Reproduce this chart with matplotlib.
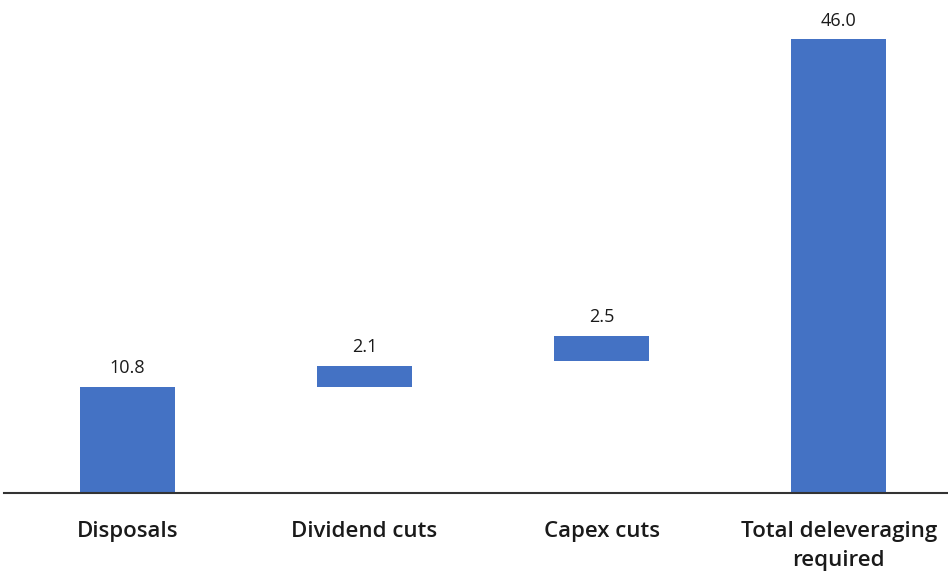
import matplotlib.pyplot as plt

# waterfall data
categories = ['Disposals', 'Dividend cuts', 'Capex cuts', 'Total deleveraging\nrequired']
values = [10.8, 2.1, 2.5, 46.0]
starts = [0, 10.8, 13.4, 0]

plt.rcParams['font.family'] = ['Open Sans', 'DejaVu Sans']

fig = plt.figure(figsize=(9.48, 5.72), dpi=100)
ax = fig.add_axes([0.004, 0.138, 0.996, 0.862])

x = range(len(categories))
bars = ax.bar(x, values, bottom=starts, width=0.4, color='#4472C4')

# value labels above each bar
for xi, v, s in zip(x, values, starts):
    ax.text(xi, s + v + 1.0, f'{v:.1f}', ha='center', va='bottom',
            fontsize=13, color='#1a1a1a')

ax.set_xlim(-0.52, 3.46)
ax.set_ylim(0, 50)
ax.set_xticks(list(x))
ax.set_xticklabels(categories, fontsize=16, fontweight='semibold', color='#1a1a1a',
                   linespacing=1.5)
ax.tick_params(axis='x', length=0, pad=20)
ax.set_yticks([])

for side in ['top', 'right', 'left']:
    ax.spines[side].set_visible(False)
ax.spines['bottom'].set_color('#333333')
ax.spines['bottom'].set_linewidth(1.5)

fig.savefig('out.png', dpi=100)
